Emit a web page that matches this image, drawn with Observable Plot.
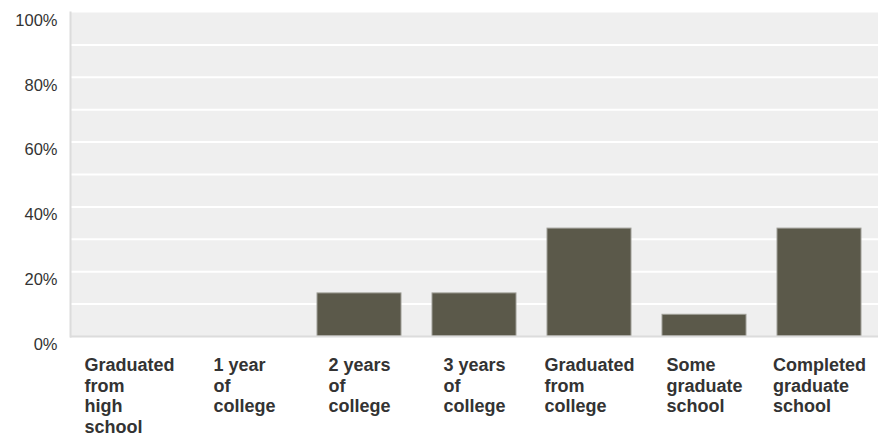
<!DOCTYPE html>
<html><head><meta charset="utf-8">
<script src="https://cdn.jsdelivr.net/npm/d3@7"></script>
<script src="https://cdn.jsdelivr.net/npm/@observablehq/plot@0.6"></script>
<style>body{margin:0;background:#fff}</style>
</head><body><div id="chart"></div>
<script>
const categories = ["Graduated from high school","1 year of college","2 years of college","3 years of college","Graduated from college","Some graduate school","Completed graduate school"];
const labelLines = [["Graduated","from","high","school"],["1 year","of","college"],["2 years","of","college"],["3 years","of","college"],["Graduated","from","college"],["Some","graduate","school"],["Completed","graduate","school"]];
const percents = [0, 0, 13.3, 13.3, 33.3, 6.7, 33.3];
const yTicks = [0, 20, 40, 60, 80, 100];
const gridTicks = [10, 20, 30, 40, 50, 60, 70, 80, 90];

const FONT = "'Liberation Sans', Arial, sans-serif";
const LABEL_SIZE = 18;
const ctx = document.createElement("canvas").getContext("2d");
ctx.font = `bold ${LABEL_SIZE}px ${FONT}`;
const data = categories.map((c, i) => ({
  category: c,
  value: percents[i],
  label: labelLines[i].join("\n"),
  w: Math.max(...labelLines[i].map(s => ctx.measureText(s).width))
}));

const chart = Plot.plot({
  width: 878,
  height: 437,
  marginLeft: 70,
  marginRight: 0,
  marginTop: 12,
  marginBottom: 101,
  style: {fontFamily: FONT, background: "#fff"},
  x: {domain: categories, paddingInner: 0.27, paddingOuter: 0.14, axis: null},
  y: {domain: [0, 100], axis: null},
  marks: [
    Plot.frame({fill: "#efefef"}),
    Plot.ruleY(gridTicks, {stroke: "white", strokeWidth: 2}),
    Plot.barY(data, {x: "category", y: "value", fill: "#5b594a", stroke: "#a09f98", strokeWidth: 1}),
    Plot.ruleY([0], {stroke: "#dcdcdc", strokeWidth: 2}),
    Plot.frame({anchor: "left", stroke: "#dcdcdc", strokeWidth: 2}),
    Plot.axisY(yTicks, {tickSize: 0, tickPadding: 13, tickFormat: d => d + "%", fontSize: 16.5, dy: 8, fill: "#333", label: null}),
    ...data.map(d => Plot.text([d], {
      x: "category", text: "label", frameAnchor: "bottom",
      textAnchor: "start", lineAnchor: "top", lineHeight: 1.145,
      dy: 20, dx: -d.w / 2, fontSize: LABEL_SIZE, fontWeight: "bold", fill: "#333"
    }))
  ]
});
document.getElementById("chart").appendChild(chart);
</script>
</body></html>
